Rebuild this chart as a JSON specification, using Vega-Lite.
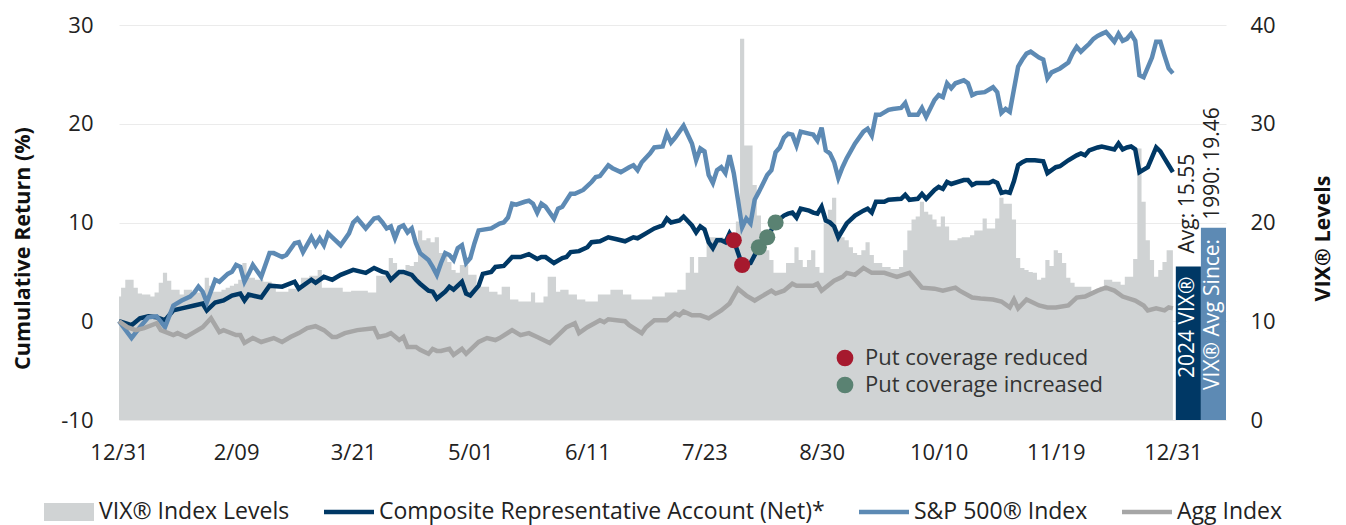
{
  "$schema": "https://vega.github.io/schema/vega-lite/v6.json",
  "width": 1107,
  "height": 395,
  "autosize": {"type": "none"},
  "padding": {"left": 119, "top": 25, "right": 120, "bottom": 105},
  "background": "white",
  "config": {
    "font": "Open Sans",
    "view": {"stroke": null},
    "axis": {"labelFontSize": 22, "labelColor": "#222", "titleFontSize": 21.5, "titleColor": "#111", "titleFontWeight": "bold", "ticks": false, "domain": false, "labelFont": "Open Sans", "titleFont": "Open Sans"},
    "legend": {"labelFontSize": 23, "labelColor": "#222", "labelFont": "Open Sans"}
  },
  "datasets": {
    "vix": [{"d":0,"v":12.5},{"d":1,"v":13.4},{"d":2,"v":14.2},{"d":3,"v":14.2},{"d":4,"v":13.4},{"d":5,"v":12.8},{"d":6,"v":12.7},{"d":7,"v":12.7},{"d":8,"v":12.5},{"d":9,"v":12.9},{"d":10,"v":13.9},{"d":11,"v":14.9},{"d":12,"v":14.1},{"d":13,"v":13.2},{"d":14,"v":13.2},{"d":15,"v":12.7},{"d":16,"v":13.2},{"d":17,"v":13.2},{"d":18,"v":12.9},{"d":19,"v":12.9},{"d":20,"v":12.9},{"d":21,"v":14.4},{"d":22,"v":13.6},{"d":23,"v":13.0},{"d":24,"v":13.0},{"d":25,"v":13.2},{"d":26,"v":13.4},{"d":27,"v":13.6},{"d":28,"v":13.8},{"d":29,"v":14.2},{"d":30,"v":15.9},{"d":31,"v":14.4},{"d":32,"v":14.4},{"d":33,"v":14.2},{"d":34,"v":14.2},{"d":35,"v":14.0},{"d":36,"v":14.0},{"d":37,"v":13.5},{"d":38,"v":13.0},{"d":39,"v":13.0},{"d":40,"v":13.0},{"d":41,"v":13.3},{"d":42,"v":13.3},{"d":43,"v":13.3},{"d":44,"v":14.4},{"d":45,"v":14.4},{"d":46,"v":14.6},{"d":47,"v":14.6},{"d":48,"v":15.2},{"d":49,"v":13.4},{"d":50,"v":13.4},{"d":51,"v":13.4},{"d":52,"v":13.4},{"d":53,"v":13.4},{"d":54,"v":13.0},{"d":55,"v":13.0},{"d":56,"v":13.1},{"d":57,"v":13.1},{"d":58,"v":13.1},{"d":59,"v":13.1},{"d":60,"v":12.9},{"d":61,"v":12.9},{"d":62,"v":14.6},{"d":63,"v":14.6},{"d":64,"v":14.6},{"d":65,"v":16.4},{"d":66,"v":15.9},{"d":67,"v":14.9},{"d":68,"v":14.9},{"d":69,"v":15.7},{"d":70,"v":15.6},{"d":71,"v":16.0},{"d":72,"v":19.2},{"d":73,"v":18.2},{"d":74,"v":18.4},{"d":75,"v":18.0},{"d":76,"v":18.5},{"d":77,"v":16.9},{"d":78,"v":16.9},{"d":79,"v":16.0},{"d":80,"v":15.2},{"d":81,"v":14.9},{"d":82,"v":15.7},{"d":83,"v":15.7},{"d":84,"v":14.7},{"d":85,"v":14.7},{"d":86,"v":13.5},{"d":87,"v":13.5},{"d":88,"v":13.5},{"d":89,"v":13.0},{"d":90,"v":13.0},{"d":91,"v":12.7},{"d":92,"v":13.5},{"d":93,"v":13.5},{"d":94,"v":12.2},{"d":95,"v":12.2},{"d":96,"v":12.0},{"d":97,"v":12.0},{"d":98,"v":12.0},{"d":99,"v":12.9},{"d":100,"v":11.9},{"d":101,"v":11.9},{"d":102,"v":12.5},{"d":103,"v":14.5},{"d":104,"v":14.5},{"d":105,"v":13.0},{"d":106,"v":13.2},{"d":107,"v":13.2},{"d":108,"v":12.7},{"d":109,"v":12.7},{"d":110,"v":12.2},{"d":111,"v":12.2},{"d":112,"v":12.0},{"d":113,"v":12.0},{"d":114,"v":12.0},{"d":115,"v":12.7},{"d":116,"v":12.7},{"d":117,"v":12.7},{"d":118,"v":13.2},{"d":119,"v":13.2},{"d":120,"v":13.2},{"d":121,"v":12.7},{"d":122,"v":12.7},{"d":123,"v":12.2},{"d":124,"v":12.2},{"d":125,"v":12.2},{"d":126,"v":12.2},{"d":127,"v":12.2},{"d":128,"v":12.5},{"d":129,"v":12.5},{"d":130,"v":12.5},{"d":131,"v":12.9},{"d":132,"v":12.9},{"d":133,"v":12.9},{"d":134,"v":13.2},{"d":135,"v":13.2},{"d":136,"v":14.9},{"d":137,"v":16.5},{"d":138,"v":14.9},{"d":139,"v":16.5},{"d":140,"v":16.5},{"d":141,"v":18.5},{"d":142,"v":18.5},{"d":143,"v":18.5},{"d":144,"v":18.5},{"d":145,"v":18.4},{"d":146,"v":18.4},{"d":147,"v":18.4},{"d":148,"v":20.1},{"d":149,"v":38.6},{"d":150,"v":27.8},{"d":151,"v":27.8},{"d":152,"v":23.8},{"d":153,"v":20.7},{"d":154,"v":18.9},{"d":155,"v":17.2},{"d":156,"v":16.2},{"d":157,"v":14.9},{"d":158,"v":14.9},{"d":159,"v":14.9},{"d":160,"v":15.9},{"d":161,"v":15.9},{"d":162,"v":17.5},{"d":163,"v":16.2},{"d":164,"v":15.5},{"d":165,"v":16.2},{"d":166,"v":17.2},{"d":167,"v":15.5},{"d":168,"v":14.9},{"d":169,"v":19.9},{"d":170,"v":21.3},{"d":171,"v":22.5},{"d":172,"v":19.2},{"d":173,"v":18.5},{"d":174,"v":18.2},{"d":175,"v":17.5},{"d":176,"v":16.9},{"d":177,"v":16.7},{"d":178,"v":17.2},{"d":179,"v":18.0},{"d":180,"v":16.7},{"d":181,"v":15.9},{"d":182,"v":15.9},{"d":183,"v":15.5},{"d":184,"v":15.5},{"d":185,"v":15.3},{"d":186,"v":15.3},{"d":187,"v":15.5},{"d":188,"v":17.2},{"d":189,"v":19.2},{"d":190,"v":20.3},{"d":191,"v":20.6},{"d":192,"v":22.1},{"d":193,"v":21.1},{"d":194,"v":20.8},{"d":195,"v":20.3},{"d":196,"v":19.6},{"d":197,"v":20.6},{"d":198,"v":19.6},{"d":199,"v":18.2},{"d":200,"v":18.2},{"d":201,"v":18.4},{"d":202,"v":18.5},{"d":203,"v":18.5},{"d":204,"v":18.7},{"d":205,"v":19.2},{"d":206,"v":19.2},{"d":207,"v":20.4},{"d":208,"v":19.4},{"d":209,"v":19.4},{"d":210,"v":20.4},{"d":211,"v":22.5},{"d":212,"v":21.9},{"d":213,"v":21.9},{"d":214,"v":20.3},{"d":215,"v":16.4},{"d":216,"v":15.4},{"d":217,"v":15.2},{"d":218,"v":15.0},{"d":219,"v":14.9},{"d":220,"v":14.2},{"d":221,"v":14.4},{"d":222,"v":16.2},{"d":223,"v":15.6},{"d":224,"v":17.2},{"d":225,"v":16.9},{"d":226,"v":15.9},{"d":227,"v":14.4},{"d":228,"v":13.9},{"d":229,"v":13.5},{"d":230,"v":13.5},{"d":231,"v":13.5},{"d":232,"v":13.5},{"d":233,"v":13.0},{"d":234,"v":13.0},{"d":235,"v":13.5},{"d":236,"v":14.2},{"d":237,"v":14.2},{"d":238,"v":14.0},{"d":239,"v":14.0},{"d":240,"v":13.7},{"d":241,"v":14.5},{"d":242,"v":14.5},{"d":243,"v":16.3},{"d":244,"v":27.5},{"d":245,"v":22.1},{"d":246,"v":18.2},{"d":247,"v":16.2},{"d":248,"v":14.5},{"d":249,"v":15.2},{"d":250,"v":16.0},{"d":251,"v":17.2},{"d":252,"v":17.2}],
    "sp": [{"d":0,"v":0.0},{"d":3,"v":-1.7},{"d":5,"v":-0.6},{"d":7,"v":0.4},{"d":9,"v":0.5},{"d":11,"v":-0.6},{"d":13,"v":1.6},{"d":15,"v":2.1},{"d":17,"v":2.5},{"d":18,"v":2.9},{"d":19,"v":3.5},{"d":20,"v":3.0},{"d":21,"v":1.9},{"d":23,"v":4.2},{"d":24,"v":4.0},{"d":26,"v":4.8},{"d":27,"v":5.0},{"d":28,"v":5.7},{"d":29,"v":5.5},{"d":30,"v":4.0},{"d":31,"v":4.8},{"d":32,"v":5.7},{"d":34,"v":4.5},{"d":36,"v":6.9},{"d":37,"v":6.9},{"d":39,"v":6.5},{"d":40,"v":6.7},{"d":42,"v":7.9},{"d":43,"v":8.0},{"d":44,"v":7.0},{"d":46,"v":8.5},{"d":47,"v":7.7},{"d":48,"v":8.4},{"d":49,"v":7.7},{"d":50,"v":8.9},{"d":51,"v":8.5},{"d":53,"v":7.7},{"d":55,"v":8.9},{"d":56,"v":10.0},{"d":57,"v":10.4},{"d":58,"v":9.9},{"d":59,"v":9.4},{"d":61,"v":10.4},{"d":62,"v":10.5},{"d":63,"v":10.0},{"d":64,"v":9.4},{"d":65,"v":9.6},{"d":66,"v":8.4},{"d":67,"v":9.5},{"d":68,"v":9.7},{"d":69,"v":9.0},{"d":70,"v":9.4},{"d":71,"v":7.9},{"d":72,"v":6.9},{"d":74,"v":6.2},{"d":75,"v":5.5},{"d":76,"v":4.7},{"d":77,"v":5.9},{"d":78,"v":6.9},{"d":79,"v":6.7},{"d":80,"v":6.2},{"d":81,"v":7.4},{"d":82,"v":7.7},{"d":83,"v":5.9},{"d":84,"v":6.4},{"d":85,"v":7.9},{"d":86,"v":9.2},{"d":89,"v":9.4},{"d":91,"v":9.9},{"d":92,"v":10.0},{"d":93,"v":10.5},{"d":94,"v":11.9},{"d":95,"v":11.8},{"d":97,"v":12.1},{"d":98,"v":12.2},{"d":99,"v":11.9},{"d":100,"v":11.0},{"d":101,"v":11.9},{"d":102,"v":11.6},{"d":104,"v":10.4},{"d":105,"v":11.4},{"d":106,"v":11.6},{"d":108,"v":12.9},{"d":109,"v":12.9},{"d":111,"v":13.3},{"d":113,"v":14.1},{"d":114,"v":14.6},{"d":115,"v":14.7},{"d":117,"v":15.8},{"d":118,"v":15.5},{"d":120,"v":15.1},{"d":122,"v":15.6},{"d":123,"v":15.8},{"d":124,"v":15.3},{"d":125,"v":16.1},{"d":127,"v":17.0},{"d":128,"v":17.6},{"d":130,"v":17.7},{"d":131,"v":19.0},{"d":132,"v":18.1},{"d":133,"v":18.6},{"d":134,"v":19.2},{"d":135,"v":19.8},{"d":137,"v":18.0},{"d":138,"v":16.3},{"d":139,"v":17.5},{"d":140,"v":17.2},{"d":141,"v":14.8},{"d":142,"v":14.0},{"d":143,"v":15.3},{"d":144,"v":15.6},{"d":145,"v":15.0},{"d":146,"v":16.8},{"d":147,"v":15.0},{"d":148,"v":12.3},{"d":149,"v":9.5},{"d":150,"v":10.4},{"d":151,"v":9.9},{"d":152,"v":12.3},{"d":153,"v":13.1},{"d":155,"v":14.8},{"d":156,"v":15.3},{"d":157,"v":17.1},{"d":158,"v":17.6},{"d":159,"v":18.6},{"d":160,"v":19.0},{"d":161,"v":18.9},{"d":162,"v":17.8},{"d":163,"v":19.2},{"d":165,"v":19.0},{"d":166,"v":18.9},{"d":167,"v":18.3},{"d":168,"v":19.6},{"d":169,"v":17.3},{"d":170,"v":17.0},{"d":171,"v":16.1},{"d":172,"v":14.5},{"d":173,"v":15.6},{"d":174,"v":16.5},{"d":176,"v":18.0},{"d":178,"v":19.2},{"d":179,"v":19.5},{"d":180,"v":18.8},{"d":181,"v":20.9},{"d":182,"v":20.9},{"d":184,"v":21.4},{"d":185,"v":21.5},{"d":187,"v":21.6},{"d":188,"v":22.1},{"d":189,"v":20.9},{"d":191,"v":20.9},{"d":192,"v":21.6},{"d":193,"v":20.7},{"d":195,"v":22.4},{"d":196,"v":22.9},{"d":197,"v":22.7},{"d":198,"v":24.1},{"d":199,"v":23.6},{"d":200,"v":24.1},{"d":202,"v":24.4},{"d":203,"v":24.1},{"d":204,"v":22.9},{"d":205,"v":23.1},{"d":207,"v":23.2},{"d":209,"v":23.7},{"d":210,"v":23.2},{"d":211,"v":21.1},{"d":212,"v":21.5},{"d":213,"v":21.2},{"d":214,"v":23.5},{"d":215,"v":25.8},{"d":216,"v":26.5},{"d":217,"v":27.1},{"d":218,"v":27.3},{"d":220,"v":26.7},{"d":221,"v":26.5},{"d":222,"v":24.6},{"d":223,"v":25.2},{"d":225,"v":25.6},{"d":227,"v":26.2},{"d":228,"v":27.1},{"d":229,"v":27.8},{"d":230,"v":27.3},{"d":231,"v":27.7},{"d":232,"v":28.1},{"d":233,"v":28.6},{"d":234,"v":28.9},{"d":235,"v":29.1},{"d":236,"v":29.3},{"d":238,"v":28.3},{"d":239,"v":29.1},{"d":240,"v":28.4},{"d":241,"v":28.6},{"d":242,"v":29.1},{"d":243,"v":28.4},{"d":244,"v":24.9},{"d":245,"v":24.7},{"d":247,"v":26.7},{"d":248,"v":28.3},{"d":249,"v":28.3},{"d":250,"v":26.9},{"d":251,"v":25.6},{"d":252,"v":25.1}],
    "cra": [{"d":0,"v":0.0},{"d":3,"v":-0.4},{"d":5,"v":0.3},{"d":7,"v":0.5},{"d":9,"v":0.4},{"d":11,"v":0.1},{"d":13,"v":1.1},{"d":15,"v":1.3},{"d":18,"v":1.6},{"d":20,"v":1.8},{"d":21,"v":1.1},{"d":23,"v":1.9},{"d":25,"v":2.1},{"d":27,"v":2.6},{"d":29,"v":2.8},{"d":30,"v":2.1},{"d":31,"v":2.7},{"d":34,"v":2.4},{"d":36,"v":3.6},{"d":39,"v":3.5},{"d":42,"v":4.0},{"d":43,"v":3.3},{"d":46,"v":4.2},{"d":47,"v":3.9},{"d":49,"v":4.5},{"d":51,"v":4.2},{"d":53,"v":4.7},{"d":56,"v":5.2},{"d":58,"v":5.0},{"d":59,"v":4.9},{"d":61,"v":5.4},{"d":63,"v":5.0},{"d":64,"v":4.9},{"d":65,"v":4.2},{"d":67,"v":5.0},{"d":68,"v":5.0},{"d":70,"v":4.7},{"d":71,"v":4.2},{"d":72,"v":3.8},{"d":74,"v":3.1},{"d":75,"v":3.0},{"d":76,"v":2.3},{"d":78,"v":3.0},{"d":79,"v":3.5},{"d":80,"v":3.2},{"d":82,"v":4.0},{"d":83,"v":2.8},{"d":84,"v":2.6},{"d":86,"v":3.6},{"d":87,"v":4.8},{"d":89,"v":5.0},{"d":90,"v":5.5},{"d":92,"v":5.6},{"d":94,"v":6.5},{"d":96,"v":6.5},{"d":98,"v":6.8},{"d":100,"v":6.3},{"d":101,"v":6.5},{"d":102,"v":6.5},{"d":104,"v":5.9},{"d":106,"v":6.4},{"d":107,"v":6.5},{"d":108,"v":7.0},{"d":110,"v":7.1},{"d":112,"v":7.5},{"d":113,"v":8.0},{"d":115,"v":8.1},{"d":117,"v":8.5},{"d":119,"v":8.3},{"d":121,"v":8.1},{"d":123,"v":8.5},{"d":124,"v":8.4},{"d":126,"v":8.9},{"d":128,"v":9.4},{"d":130,"v":9.7},{"d":131,"v":10.4},{"d":132,"v":10.0},{"d":134,"v":10.2},{"d":135,"v":10.6},{"d":137,"v":9.7},{"d":138,"v":9.0},{"d":139,"v":9.6},{"d":140,"v":9.3},{"d":141,"v":8.0},{"d":142,"v":7.4},{"d":143,"v":8.2},{"d":144,"v":8.2},{"d":145,"v":8.0},{"d":146,"v":8.9},{"d":147,"v":8.2},{"d":149,"v":5.7},{"d":151,"v":5.9},{"d":153,"v":7.5},{"d":155,"v":8.5},{"d":157,"v":10.0},{"d":159,"v":10.7},{"d":160,"v":10.9},{"d":161,"v":11.0},{"d":162,"v":10.5},{"d":163,"v":11.4},{"d":165,"v":11.2},{"d":166,"v":11.0},{"d":167,"v":10.9},{"d":168,"v":11.6},{"d":169,"v":10.2},{"d":170,"v":10.0},{"d":171,"v":9.6},{"d":172,"v":8.5},{"d":173,"v":9.2},{"d":174,"v":9.9},{"d":176,"v":10.7},{"d":178,"v":11.2},{"d":179,"v":11.4},{"d":180,"v":11.0},{"d":181,"v":12.1},{"d":183,"v":12.1},{"d":184,"v":12.3},{"d":187,"v":12.4},{"d":188,"v":12.8},{"d":189,"v":12.3},{"d":191,"v":12.4},{"d":192,"v":12.9},{"d":193,"v":12.4},{"d":195,"v":13.3},{"d":196,"v":13.6},{"d":197,"v":13.4},{"d":198,"v":14.1},{"d":199,"v":13.9},{"d":202,"v":14.3},{"d":203,"v":14.3},{"d":204,"v":13.8},{"d":205,"v":14.0},{"d":208,"v":14.0},{"d":209,"v":14.2},{"d":210,"v":14.0},{"d":211,"v":13.0},{"d":212,"v":13.1},{"d":213,"v":13.0},{"d":214,"v":14.2},{"d":215,"v":15.8},{"d":216,"v":16.1},{"d":217,"v":16.3},{"d":219,"v":16.3},{"d":221,"v":16.2},{"d":222,"v":15.0},{"d":224,"v":15.6},{"d":225,"v":15.7},{"d":227,"v":16.3},{"d":229,"v":16.8},{"d":230,"v":17.0},{"d":231,"v":16.8},{"d":232,"v":17.3},{"d":234,"v":17.6},{"d":235,"v":17.7},{"d":238,"v":17.4},{"d":239,"v":18.0},{"d":240,"v":17.4},{"d":241,"v":17.6},{"d":242,"v":17.7},{"d":243,"v":17.4},{"d":244,"v":15.1},{"d":246,"v":15.6},{"d":247,"v":16.6},{"d":248,"v":17.6},{"d":249,"v":17.2},{"d":250,"v":16.5},{"d":251,"v":15.8},{"d":252,"v":15.1}],
    "agg": [{"d":0,"v":0.0},{"d":2,"v":-0.6},{"d":4,"v":-0.9},{"d":6,"v":-0.7},{"d":9,"v":-0.2},{"d":10,"v":-0.9},{"d":13,"v":-1.4},{"d":14,"v":-1.2},{"d":16,"v":-1.6},{"d":18,"v":-1.1},{"d":20,"v":-0.6},{"d":22,"v":0.3},{"d":24,"v":-1.1},{"d":25,"v":-0.9},{"d":28,"v":-1.4},{"d":29,"v":-1.4},{"d":30,"v":-2.2},{"d":32,"v":-1.7},{"d":34,"v":-2.1},{"d":37,"v":-1.7},{"d":39,"v":-2.1},{"d":41,"v":-1.6},{"d":43,"v":-1.2},{"d":45,"v":-0.7},{"d":47,"v":-0.5},{"d":49,"v":-0.9},{"d":51,"v":-1.6},{"d":52,"v":-1.6},{"d":54,"v":-1.2},{"d":57,"v":-0.9},{"d":61,"v":-0.7},{"d":62,"v":-1.6},{"d":64,"v":-1.4},{"d":65,"v":-1.2},{"d":67,"v":-1.9},{"d":68,"v":-1.6},{"d":69,"v":-2.6},{"d":71,"v":-2.6},{"d":72,"v":-2.9},{"d":74,"v":-3.3},{"d":75,"v":-2.8},{"d":76,"v":-3.0},{"d":77,"v":-3.0},{"d":79,"v":-2.8},{"d":80,"v":-3.4},{"d":82,"v":-2.8},{"d":83,"v":-3.3},{"d":86,"v":-2.1},{"d":88,"v":-1.7},{"d":90,"v":-1.9},{"d":91,"v":-1.7},{"d":94,"v":-0.9},{"d":96,"v":-1.4},{"d":98,"v":-1.2},{"d":100,"v":-1.6},{"d":103,"v":-2.2},{"d":105,"v":-1.4},{"d":107,"v":-0.6},{"d":109,"v":-0.2},{"d":110,"v":-1.2},{"d":112,"v":-0.6},{"d":115,"v":0.1},{"d":116,"v":-0.1},{"d":117,"v":0.2},{"d":121,"v":0.0},{"d":122,"v":-0.4},{"d":125,"v":-1.2},{"d":126,"v":-0.6},{"d":128,"v":0.1},{"d":131,"v":0.1},{"d":133,"v":0.8},{"d":134,"v":0.6},{"d":135,"v":1.0},{"d":137,"v":0.6},{"d":139,"v":0.6},{"d":141,"v":0.3},{"d":144,"v":1.1},{"d":146,"v":1.8},{"d":148,"v":3.3},{"d":150,"v":2.6},{"d":152,"v":2.1},{"d":154,"v":2.6},{"d":156,"v":3.1},{"d":157,"v":2.8},{"d":159,"v":3.1},{"d":161,"v":3.8},{"d":162,"v":3.6},{"d":166,"v":3.6},{"d":167,"v":3.8},{"d":168,"v":3.1},{"d":171,"v":4.1},{"d":173,"v":4.5},{"d":174,"v":4.9},{"d":176,"v":4.7},{"d":178,"v":5.4},{"d":180,"v":4.9},{"d":183,"v":4.9},{"d":186,"v":4.5},{"d":189,"v":4.9},{"d":190,"v":4.4},{"d":192,"v":3.4},{"d":195,"v":3.3},{"d":197,"v":3.1},{"d":200,"v":3.4},{"d":201,"v":3.1},{"d":204,"v":2.4},{"d":206,"v":2.3},{"d":209,"v":2.2},{"d":211,"v":2.0},{"d":213,"v":1.4},{"d":214,"v":2.2},{"d":215,"v":1.3},{"d":217,"v":2.2},{"d":220,"v":1.6},{"d":222,"v":1.4},{"d":224,"v":1.4},{"d":227,"v":1.6},{"d":229,"v":2.4},{"d":231,"v":2.5},{"d":233,"v":2.9},{"d":234,"v":3.1},{"d":236,"v":3.4},{"d":238,"v":3.1},{"d":240,"v":2.5},{"d":243,"v":2.1},{"d":245,"v":1.6},{"d":246,"v":1.1},{"d":248,"v":1.3},{"d":250,"v":1.1},{"d":251,"v":1.4},{"d":252,"v":1.3}],
    "puts": [{"d":147,"v":8.2,"a":"Put coverage reduced"},{"d":149,"v":5.7,"a":"Put coverage reduced"},{"d":153,"v":7.5,"a":"Put coverage increased"},{"d":155,"v":8.5,"a":"Put coverage increased"},{"d":157,"v":10.0,"a":"Put coverage increased"}],
    "avg": [{"k":"a","label":"2024 VIX® Avg","d0":252.7,"d1":258.7,"mid":255.7,"avg":15.55,"inner":"2024 VIX®","outer":"Avg: 15.55"},{"k":"b","label":"VIX® Avg Since 1990","d0":258.7,"d1":264.7,"mid":261.7,"avg":19.46,"inner":"VIX® Avg Since:","outer":"1990: 19.46"}]
  },
  "layer": [
    {
      "layer": [
        {
          "data": {"name": "vix"},
          "mark": {"type": "area", "interpolate": "step"},
          "encoding": {
            "x": {"field": "d", "type": "quantitative", "scale": {"domain": [0, 264.7], "nice": false, "zero": false},
              "axis": {"values": [0,28,56,84,112,140,168,196,224,252], "labelExpr": "['12/31','2/09','3/21','5/01','6/11','7/23','8/30','10/10','11/19','12/31'][round(datum.value/28)]", "title": null, "grid": false, "labelPadding": 22, "labelFlush": false}},
            "y": {"field": "v", "type": "quantitative", "scale": {"domain": [0, 40], "nice": false},
              "axis": {"orient": "right", "values": [0,10,20,30,40], "grid": false, "title": "VIX® Levels", "labelPadding": 24, "titleAngle": 270, "titleBaseline": "top", "titlePadding": 37, "titleY": 213}},
            "color": {"datum": "VIX® Index Levels", "type": "nominal",
              "scale": {"domain": ["VIX® Index Levels", "Composite Representative Account (Net)*", "S&P 500® Index", "Agg Index"], "range": ["#d0d3d4", "#003865", "#5d8ab4", "#a6a6a6"]},
              "legend": {"orient": "none", "legendX": -75, "legendY": 462, "direction": "horizontal", "title": null, "symbolSize": 2500, "labelOffset": 5, "columnPadding": 34, "labelFontSize": 23, "labelLimit": 700,
                "encode": {"symbols": {"update": {"shape": {"signal": "datum.value === 'VIX® Index Levels' ? 'M-1,-0.36H1V0.36H-1Z' : 'M-1,-0.09H1V0.09H-1Z'"}, "fill": {"scale": "color", "field": "value"}, "stroke": {"value": "transparent"}, "strokeWidth": {"value": 0}, "opacity": {"value": 1}}}}}}
          }
        },
        {
          "data": {"name": "avg"},
          "transform": [{"filter": "datum.k === 'a'"}],
          "mark": {"type": "rect", "color": "#003865"},
          "encoding": {
            "x": {"field": "d0", "type": "quantitative"},
            "x2": {"field": "d1"},
            "y": {"field": "avg", "type": "quantitative"},
            "y2": {"datum": 0}
          }
        },
        {
          "data": {"name": "avg"},
          "transform": [{"filter": "datum.k === 'b'"}],
          "mark": {"type": "rect", "color": "#5d8ab4"},
          "encoding": {
            "x": {"field": "d0", "type": "quantitative"},
            "x2": {"field": "d1"},
            "y": {"field": "avg", "type": "quantitative"},
            "y2": {"datum": 0}
          }
        },
        {
          "data": {"name": "avg"},
          "transform": [{"filter": "datum.k === 'a'"}],
          "mark": {"type": "text", "angle": 270, "align": "left", "baseline": "middle", "dx": 42, "color": "white", "fontSize": 21},
          "encoding": {
            "x": {"field": "mid", "type": "quantitative"},
            "y": {"datum": 0, "type": "quantitative"},
            "text": {"field": "inner"}
          }
        },
        {
          "data": {"name": "avg"},
          "transform": [{"filter": "datum.k === 'a'"}],
          "mark": {"type": "text", "angle": 270, "align": "left", "baseline": "middle", "dx": 13, "color": "#222", "fontSize": 21},
          "encoding": {
            "x": {"field": "mid", "type": "quantitative"},
            "y": {"field": "avg", "type": "quantitative"},
            "text": {"field": "outer"}
          }
        },
        {
          "data": {"name": "avg"},
          "transform": [{"filter": "datum.k === 'b'"}],
          "mark": {"type": "text", "angle": 270, "align": "left", "baseline": "middle", "dx": 30, "color": "white", "fontSize": 21},
          "encoding": {
            "x": {"field": "mid", "type": "quantitative"},
            "y": {"datum": 0, "type": "quantitative"},
            "text": {"field": "inner"}
          }
        },
        {
          "data": {"name": "avg"},
          "transform": [{"filter": "datum.k === 'b'"}],
          "mark": {"type": "text", "angle": 270, "align": "left", "baseline": "middle", "dx": 8, "color": "#222", "fontSize": 21},
          "encoding": {
            "x": {"field": "mid", "type": "quantitative"},
            "y": {"field": "avg", "type": "quantitative"},
            "text": {"field": "outer"}
          }
        }
      ]
    },
    {
      "layer": [
        {
          "data": {"name": "cra"},
          "mark": {"type": "line", "strokeWidth": 4.5},
          "encoding": {
            "x": {"field": "d", "type": "quantitative"},
            "y": {"field": "v", "type": "quantitative", "scale": {"domain": [-10, 30], "nice": false},
              "axis": {"orient": "left", "values": [-10,0,10,20,30], "labelExpr": "datum.value", "grid": true, "gridColor": "#ebebeb", "gridWidth": 1, "title": "Cumulative Return (%)", "labelPadding": 26, "titlePadding": 26, "titleY": 223}},
            "color": {"datum": "Composite Representative Account (Net)*", "type": "nominal",
              "scale": {"domain": ["VIX® Index Levels", "Composite Representative Account (Net)*", "S&P 500® Index", "Agg Index"], "range": ["#d0d3d4", "#003865", "#5d8ab4", "#a6a6a6"]}}
          }
        },
        {
          "data": {"name": "sp"},
          "mark": {"type": "line", "strokeWidth": 4.5},
          "encoding": {
            "x": {"field": "d", "type": "quantitative"},
            "y": {"field": "v", "type": "quantitative"},
            "color": {"datum": "S&P 500® Index", "type": "nominal",
              "scale": {"domain": ["VIX® Index Levels", "Composite Representative Account (Net)*", "S&P 500® Index", "Agg Index"], "range": ["#d0d3d4", "#003865", "#5d8ab4", "#a6a6a6"]}}
          }
        },
        {
          "data": {"name": "agg"},
          "mark": {"type": "line", "strokeWidth": 4.5},
          "encoding": {
            "x": {"field": "d", "type": "quantitative"},
            "y": {"field": "v", "type": "quantitative"},
            "color": {"datum": "Agg Index", "type": "nominal",
              "scale": {"domain": ["VIX® Index Levels", "Composite Representative Account (Net)*", "S&P 500® Index", "Agg Index"], "range": ["#d0d3d4", "#003865", "#5d8ab4", "#a6a6a6"]}}
          }
        },
        {
          "data": {"name": "puts"},
          "mark": {"type": "circle", "size": 260, "opacity": 1},
          "encoding": {
            "x": {"field": "d", "type": "quantitative"},
            "y": {"field": "v", "type": "quantitative"},
            "fill": {"field": "a", "type": "nominal",
              "scale": {"domain": ["Put coverage reduced", "Put coverage increased"], "range": ["#a6192e", "#5a8272"]},
              "legend": {"orient": "none", "legendX": 715, "legendY": 322, "title": null, "symbolType": "circle", "symbolSize": 280, "symbolStrokeWidth": 0, "symbolOpacity": 1, "labelOffset": 9, "rowPadding": 5, "labelFontSize": 22, "labelColor": "#333", "labelLimit": 400}}
          }
        }
      ]
    }
  ],
  "resolve": {"scale": {"y": "independent"}, "axis": {"y": "independent"}}
}
